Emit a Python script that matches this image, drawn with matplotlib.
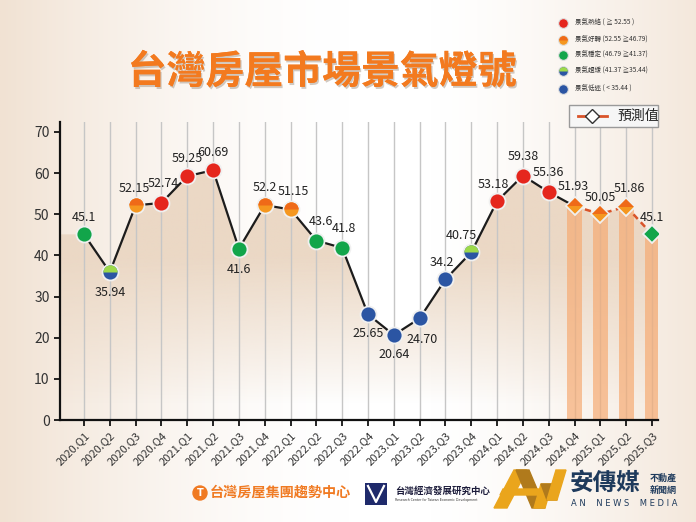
import numpy as np
import matplotlib.pyplot as plt
import matplotlib.patheffects as pe
from matplotlib.patches import Polygon, Rectangle, Circle
from matplotlib.colors import to_rgb

plt.rcParams['font.family'] = ['Noto Sans CJK TC', 'DejaVu Sans']

# data
quarters = ['2020.Q1', '2020.Q2', '2020.Q3', '2020.Q4', '2021.Q1', '2021.Q2', '2021.Q3', '2021.Q4',
            '2022.Q1', '2022.Q2', '2022.Q3', '2022.Q4', '2023.Q1', '2023.Q2', '2023.Q3', '2023.Q4',
            '2024.Q1', '2024.Q2', '2024.Q3', '2024.Q4', '2025.Q1', '2025.Q2', '2025.Q3']
scores = [45.1, 35.94, 52.15, 52.74, 59.25, 60.69, 41.6, 52.2, 51.15, 43.6, 41.8, 25.65,
          20.64, 24.70, 34.2, 40.75, 53.18, 59.38, 55.36, 51.93, 50.05, 51.86, 45.1]
score_text = ['45.1', '35.94', '52.15', '52.74', '59.25', '60.69', '41.6', '52.2', '51.15', '43.6',
              '41.8', '25.65', '20.64', '24.70', '34.2', '40.75', '53.18', '59.38', '55.36', '51.93',
              '50.05', '51.86', '45.1']
n_forecast = 4

signal_names = ['景氣熱絡 ( ≧ 52.55 )', '景氣好轉 (52.55 ≧46.79)', '景氣穩定 (46.79 ≧41.37)',
                '景氣趨緩 (41.37 ≧35.44)', '景氣低迷 ( < 35.44 )']
thresholds = [52.55, 46.79, 41.37, 35.44]

# marker colours per signal: (base face, top-half face or None)
signal_style = [('#e5261d', None), ('#f5971f', '#ef6a18'), ('#12a54a', None),
                ('#2b55a3', '#9dd94a'), ('#2b55a3', None)]

# label offsets in points
label_off = [(0, 12), (0, -15), (-1, 12), (1, 14), (0, 13), (0, 13), (0, -15), (0, 13),
             (2, 13), (3, 14), (1, 14), (0, -14), (0, -14), (2, -15), (-3, 12), (-7, 12),
             (-3, 12), (0, 14), (0, 14), (-1, 14), (0, 12), (2, 13), (0, 12)]


def signal(v):
    for k, t in enumerate(thresholds):
        if v >= t:
            return k
    return 4


def marker(a, px, py, style, **kw):
    face, top = style
    a.plot([px], [py], mfc=face, ls='none', **kw)
    if top:
        kw2 = dict(kw)
        kw2['mec'] = 'none'
        kw2['zorder'] = kw.get('zorder', 2) + 0.1
        kw2['ms'] = kw['ms'] - kw['mew'] * 0.9
        a.plot([px], [py], mfc=top, fillstyle='top', ls='none', **kw2)


W, H = 696, 522
fig = plt.figure(figsize=(W / 100, H / 100), dpi=100)

# background
bg = fig.add_axes([0, 0, 1, 1], zorder=-10)
bg.axis('off')
gx = np.linspace(0, 1, 400)[None, :]
gy = np.linspace(0, 1, 300)[:, None]
w = np.clip(1 - gx / 0.5, 0, 1) ** 1.6 + 0.8 * np.clip((gx - 0.62) / 0.38, 0, 1) ** 1.4
w = np.clip(w + 0 * gy, 0, 1)
beige = np.array([241, 226, 211]) / 255
img = np.ones((300, 400, 3)) * (1 - w[..., None]) + beige * w[..., None]
bg.imshow(img, extent=[0, 1, 0, 1], aspect='auto')
bg.set_xlim(0, 1)
bg.set_ylim(0, 1)

# main axes
x0, x1 = -0.93, 22.23
y1 = 72.4
ax = fig.add_axes([60 / W, (H - 420) / H, 598 / W, 298 / H])
ax.patch.set_alpha(0)
x = np.arange(len(quarters))

for xi in x:
    ax.axvline(xi, color='#c6c6c6', lw=1, zorder=1)

# gradient fill under the line
verts = [(x0, 0), (x0, scores[0])] + list(zip(x, scores)) + [(x1, scores[-1]), (x1, 0)]
clip = Polygon(verts, closed=True, facecolor='none', edgecolor='none')
ax.add_patch(clip)
yy = np.linspace(0, y1, 300)[:, None]
alpha = np.clip((yy - 4) / 36, 0, 1) ** 0.9
fill_rgb = np.array(to_rgb('#ebd8c5'))
grad = np.zeros((300, 2, 4))
grad[..., :3] = fill_rgb
grad[..., 3] = alpha
im = ax.imshow(grad, extent=[x0, x1, 0, y1], origin='lower', aspect='auto', zorder=0.5)
im.set_clip_path(clip)

# forecast bars
fx = x[-n_forecast:]
fv = scores[-n_forecast:]
ax.bar(fx, fv, width=0.58, color='#f6a970', alpha=0.68, zorder=2, lw=0)

# lines
nh = len(scores) - n_forecast
ax.plot(x[:nh + 1], scores[:nh + 1], color='#1c1c1c', lw=1.6, zorder=3)
ax.plot(x[nh:], scores[nh:], color='#d9542a', lw=1.8, ls=(0, (2.5, 1.8)), zorder=3)

# markers
for i, v in enumerate(scores):
    fc = i >= nh
    marker(ax, i, v, signal_style[signal(v)], marker='D' if fc else 'o',
           ms=9.5 if fc else 11.5, mec='#f0f0f0', mew=1.3, zorder=4)
    ax.annotate(score_text[i], (i, v), xytext=label_off[i], textcoords='offset points',
                ha='center', va='center', fontsize=9, color='#222222', zorder=5)

ax.set_xlim(x0, x1)
ax.set_ylim(0, y1)
ax.set_yticks(range(0, 71, 10))
ax.set_xticks(x)
ax.set_xticklabels(quarters, rotation=45, ha='right', rotation_mode='anchor', fontsize=8,
                   color='#333333')
ax.tick_params(axis='y', labelsize=10, labelcolor='#333333', length=4, width=1.2)
ax.tick_params(axis='x', length=4, width=1.2, pad=3)
for s in ['top', 'right']:
    ax.spines[s].set_visible(False)
for s in ['left', 'bottom']:
    ax.spines[s].set_linewidth(1.6)
    ax.spines[s].set_color('#111111')

# title
fig.text(322 / W, 1 - 72 / H, '台灣房屋市場景氣燈號', fontsize=28, fontweight='bold',
         color='#f37a1f', ha='center', va='center',
         path_effects=[pe.withSimplePatchShadow(offset=(1, -1.5), shadow_rgbFace='#9a8a7a', alpha=0.45),
                       pe.Normal()])

# overlay in pixel coordinates for legend and logos
ov = fig.add_axes([0, 0, 1, 1], zorder=10)
ov.axis('off')
ov.set_xlim(0, W)
ov.set_ylim(H, 0)

leg_y = [23, 40, 55, 71, 89]
for k, (name, yk) in enumerate(zip(signal_names, leg_y)):
    marker(ov, 563, yk, signal_style[k], marker='o', ms=7, mec='#e0e0e0', mew=0.8, zorder=2)
    ov.text(575, yk, name, fontsize=4.7, color='#333333', va='center', ha='left')

ov.add_patch(Rectangle((569, 105), 89, 22, facecolor='#f6f6f6', edgecolor='#9a9a9a', lw=1))
ov.plot([578, 607], [116, 116], color='#d9542a', lw=2)
ov.plot([592], [116], marker='D', ms=7, mfc='white', mec='#333333', mew=1)
ov.text(638, 116, '預測值', fontsize=10, color='#222222', ha='center', va='center')

# logos
ov.add_patch(Circle((200, 493), 7, color='#f07a22'))
ov.text(200, 493.5, 'T', fontsize=7, fontweight='bold', color='white', ha='center', va='center',
        family='DejaVu Sans')
ov.text(210, 493, '台灣房屋集團趨勢中心', fontsize=10.2, fontweight='bold', color='#f07a22',
        ha='left', va='center')

ov.add_patch(Rectangle((365, 483), 22, 22, facecolor='#1f2a6b', edgecolor='none'))
ov.plot([368, 376, 384], [486, 502, 486], color='white', lw=1.6)
ov.text(395, 491, '台灣經濟發展研究中心', fontsize=6.8, fontweight='bold', color='#1b1b3a',
        ha='left', va='center')
ov.text(395, 500.5, 'Research Center for Taiwan Economic Development', fontsize=2.3,
        color='#333333', ha='left', va='center', family='DejaVu Sans')

gold = '#eaa51c'
brown = '#b07a1c'
ov.add_patch(Polygon([(494, 508), (507, 508), (527, 470), (514, 470)], color=gold))
ov.add_patch(Polygon([(516, 470), (529, 470), (545, 508), (532, 508)], color=brown))
ov.add_patch(Polygon([(503, 489), (546, 489), (543, 495), (500, 495)], color=gold))
ov.add_patch(Polygon([(534, 508), (545, 508), (552, 484), (541, 484)], color=gold))
ov.add_patch(Polygon([(541, 484), (552, 484), (557, 500), (547, 500)], color=brown))
ov.add_patch(Polygon([(547, 500), (557, 500), (566, 470), (556, 470)], color=gold))

ov.text(570, 483, '安傳媒', fontsize=17, fontweight='bold', color='#1e3a5c', ha='left', va='center')
ov.text(663, 478.5, '不動產', fontsize=6.5, fontweight='bold', color='#1e3a5c', ha='center', va='center')
ov.text(663, 490, '新聞網', fontsize=6.5, fontweight='bold', color='#1e3a5c', ha='center', va='center')
ov.text(624, 503, 'A N    N E W S    M E D I A', fontsize=6, color='#1e3a5c', ha='center',
        va='center', family='DejaVu Sans')

fig.savefig('out.png', dpi=100)
